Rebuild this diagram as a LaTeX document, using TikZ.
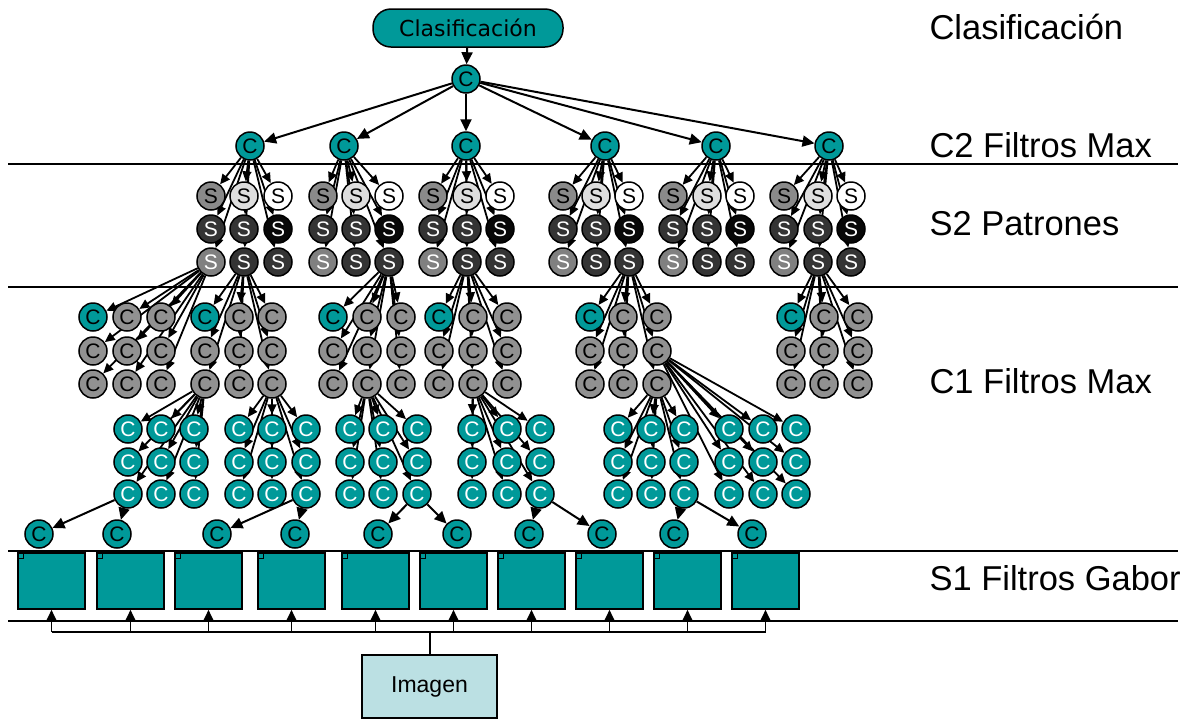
\documentclass[tikz,border=0pt]{standalone}
\usepackage{fontspec}
\setmainfont{Liberation Sans}
\newfontfamily\dvsans{DejaVu Sans}
\usetikzlibrary{arrows.meta}

\definecolor{cteal}{RGB}{0,153,153}
\definecolor{cgray}{RGB}{145,145,145}
\definecolor{simg}{RGB}{187,224,227}
\definecolor{sA}{RGB}{138,138,138}
\definecolor{sB}{RGB}{222,222,222}
\definecolor{sD}{RGB}{52,52,52}
\definecolor{sK}{RGB}{8,8,8}
\definecolor{sG}{RGB}{128,128,128}

\pgfdeclarelayer{bg}
\pgfsetlayers{bg,main}

\tikzset{
  circ/.style={circle, draw=black, line width=1.5pt, minimum size=28pt, inner sep=0pt,
               font=\fontsize{21}{21}\selectfont},
  tealc/.style={circ, fill=cteal, text=black},
  tealw/.style={circ, fill=cteal, text=white},
  grayc/.style={circ, fill=cgray, text=black},
  % S2 pattern units, by row and column
  s11/.style={circ, fill=sA, text=black},
  s12/.style={circ, fill=sB, text=black},
  s13/.style={circ, fill=white, text=black},
  s21/.style={circ, fill=sD, text=white},
  s22/.style={circ, fill=sD, text=white},
  s23/.style={circ, fill=sK, text=white},
  s31/.style={circ, fill=sG, text=white},
  s32/.style={circ, fill=sD, text=white},
  s33/.style={circ, fill=sD, text=white},
  link/.style={line width=2pt, -{Triangle[length=12pt,width=11pt]}},
  smalllink/.style={line width=1.8pt, -{Triangle[length=10pt,width=9pt]}},
  rule/.style={line width=1.5pt},
  layertext/.style={anchor=base west, font=\fontsize{34.5}{36}\selectfont},
  clsbox/.style={rectangle, rounded corners=18pt, minimum width=190pt, minimum height=38pt,
                 fill=cteal, draw=black, line width=1.5pt, inner sep=0pt,
                 font=\dvsans\fontsize{22}{22}\selectfont},
  gabor/.style={rectangle, fill=cteal, draw=black, line width=1.5pt,
                minimum width=67pt, minimum height=56pt, inner sep=0pt},
  imgbox/.style={rectangle, fill=simg, draw=black, line width=1.2pt,
                 minimum width=135pt, minimum height=63pt, inner sep=0pt,
                 font=\fontsize{23}{23}\selectfont},
}

\begin{document}
\begin{tikzpicture}[x=1pt, y=-1pt]
\useasboundingbox (0,0) rectangle (1194,721);

% layer separators
\begin{pgfonlayer}{bg}
  \foreach \yy in {164,287,551,621}
    \draw[rule] (8,\yy) -- (1178,\yy);
\end{pgfonlayer}

% layer names
\node[layertext] (t1) at (926,39)  {Clasificación};
\node[layertext] (t2) at (926,157) {C2 Filtros Max};
\node[layertext] (t3) at (926,235) {S2 Patrones};
\node[layertext] (t4) at (926,393) {C1 Filtros Max};
\node[layertext] (t5) at (926,590) {S1 Filtros Gabor};

% classification and C2 layer
\node[clsbox] (cls) at (468,28) {Clasificación};
\node[tealc] (c0) at (466,79) {C};
\foreach \i/\x in {1/250,2/344,3/466,4/605,5/716,6/829}
  \node[tealc] (c2-\i) at (\x,146) {C};

\begin{pgfonlayer}{bg}
  \draw[link] (cls) -- (c0);
  \foreach \i in {1,...,6}
    \draw[link] (c0) -- (c2-\i);
\end{pgfonlayer}

% S2 patterns: six groups of 3x3
\foreach \g/\xa/\xb/\xc in {1/211/244/278, 2/323/356/389, 3/433/467/500,
                            4/563/596/629, 5/673/707/740, 6/784/818/851} {
  \foreach \r/\y in {1/196,2/229,3/262} {
    \foreach \c/\x in {1/\xa,2/\xb,3/\xc} {
      \node[s\r\c] (s\g-\r-\c) at (\x,\y) {S};
      \begin{pgfonlayer}{bg}
        \draw[smalllink] (c2-\g) -- (s\g-\r-\c);
      \end{pgfonlayer}
    }
  }
}

% C1 max filters (upper groups)
\foreach \n/\src/\xa/\xb/\xc in {A/s1-3-1/93/127/161, B/s1-3-2/205/239/272,
                                 C/s2-3-3/333/367/401, D/s3-3-2/439/473/507,
                                 E/s4-3-3/590/623/657, F/s6-3-2/791/824/858} {
  \foreach \r/\y in {1/317,2/351,3/384} {
    \foreach \c/\x in {1/\xa,2/\xb,3/\xc} {
      \ifnum\r\c=11 \def\st{tealc}\else\def\st{grayc}\fi
      \node[\st] (\n-\r-\c) at (\x,\y) {C};
      \begin{pgfonlayer}{bg}
        \draw[smalllink] (\src) -- (\n-\r-\c);
      \end{pgfonlayer}
    }
  }
}

% C1 max filters (lower groups)
\foreach \n/\src/\xa/\xb/\xc in {G/B-3-1/128/161/194, H/B-3-3/239/272/306,
                                 I/C-3-2/350/383/417, J/D-3-2/472/507/540,
                                 K/E-3-3/618/651/684, L/E-2-3/729/763/796} {
  \foreach \r/\y in {1/429,2/462,3/494} {
    \foreach \c/\x in {1/\xa,2/\xb,3/\xc} {
      \node[tealw] (\n-\r-\c) at (\x,\y) {C};
      \begin{pgfonlayer}{bg}
        \draw[smalllink] (\src) -- (\n-\r-\c);
      \end{pgfonlayer}
    }
  }
}

% bottom row of C units
\foreach \i/\x/\src in {1/39/G-3-1, 2/117/G-3-1, 3/217/H-3-3, 4/295/H-3-3,
                        5/378/I-3-3, 6/457/I-3-3, 7/529/J-3-3, 8/602/J-3-3,
                        9/674/K-3-3, 10/752/K-3-3} {
  \node[tealc] (b\i) at (\x,534) {C};
  \begin{pgfonlayer}{bg}
    \draw[link] (\src) -- (b\i);
  \end{pgfonlayer}
}

% S1 Gabor filters
\coordinate (busy) at (0,632);
\foreach \i/\xl in {1/18,2/97,3/175,4/258,5/342,6/420,7/498,8/576,9/654,10/732} {
  \node[gabor] (g\i) at (\xl+33.5,581) {};
  \draw[line width=1pt] (g\i.north west) rectangle ++(6,6);
  \coordinate (bus\i) at (g\i.south |- busy);
  \draw[smalllink] (bus\i) -- (g\i.south);
}

% input image
\node[imgbox] (img) at (429.5,686.5) {Imagen};
\draw[line width=1.6pt] (bus1) -- (bus10);
\draw[line width=2pt] (img.north) -- (img.north |- busy);

\end{tikzpicture}
\end{document}
